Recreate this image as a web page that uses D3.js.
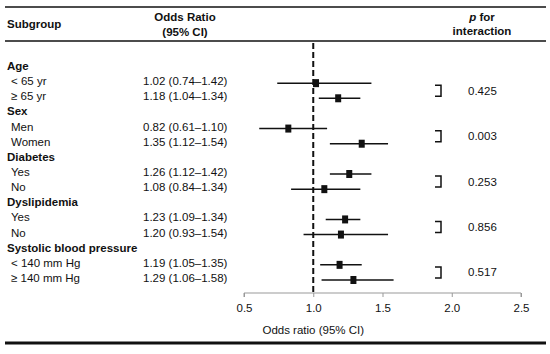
<!DOCTYPE html>
<html lang="en">
<head>
<meta charset="utf-8">
<title>Odds ratio by subgroup</title>
<script src="https://d3js.org/d3.v7.min.js"></script>
<style>
  body { margin: 0; background: #fff; }
  svg text { font-family: "Liberation Sans", Arial, sans-serif; fill: #111; }
  .hdr { font-weight: bold; font-size: 11.5px; }
  .lbl { font-size: 11.5px; }
</style>
</head>
<body>
<div id="chart"></div>
<script>
// rows, top to bottom (group headers have no estimate)
var labels = ["Age", "< 65 yr", "\u2265 65 yr", "Sex", "Men", "Women", "Diabetes", "Yes", "No",
              "Dyslipidemia", "Yes", "No", "Systolic blood pressure", "< 140 mm Hg", "\u2265 140 mm Hg"];
var isGroup = [1,0,0,1,0,0,1,0,0,1,0,0,1,0,0];
var orValues = [null,1.02,1.18,null,0.82,1.35,null,1.26,1.08,null,1.23,1.20,null,1.19,1.29];
var ciLow   = [null,0.74,1.04,null,0.61,1.12,null,1.12,0.84,null,1.09,0.93,null,1.05,1.06];
var ciHigh  = [null,1.42,1.34,null,1.10,1.54,null,1.42,1.34,null,1.34,1.54,null,1.35,1.58];
// p for interaction, one per group
var pValues = ["0.425", "0.003", "0.253", "0.856", "0.517"];
var xTicks = [0.5, 1.0, 1.5, 2.0, 2.5];

var W = 550, H = 354;
var svg = d3.select("#chart").append("svg").attr("width", W).attr("height", H);

var x = d3.scaleLinear().domain([0.5, 2.5]).range([244, 521]);
var y = d3.scaleLinear().domain([0, 14]).range([66, 278]);
var fmt = d3.format(".2f");

// frame lines
svg.append("line").attr("x1", 5).attr("x2", 546).attr("y1", 7).attr("y2", 7)
  .attr("stroke", "#111").attr("stroke-width", 1.5);
svg.append("line").attr("x1", 5).attr("x2", 546).attr("y1", 41).attr("y2", 41)
  .attr("stroke", "#111").attr("stroke-width", 1.5);
svg.append("line").attr("x1", 5).attr("x2", 546).attr("y1", 343).attr("y2", 343)
  .attr("stroke", "#111").attr("stroke-width", 3);

// headers
svg.append("text").attr("class", "hdr").attr("x", 7).attr("y", 28).text("Subgroup");
svg.append("text").attr("class", "hdr").attr("x", 185).attr("y", 21)
  .attr("text-anchor", "middle").text("Odds Ratio");
svg.append("text").attr("class", "hdr").attr("x", 185).attr("y", 36)
  .attr("text-anchor", "middle").text("(95% CI)");
var ph = svg.append("text").attr("class", "hdr").attr("x", 482).attr("y", 21)
  .attr("text-anchor", "middle");
ph.append("tspan").style("font-style", "italic").text("p");
ph.append("tspan").text(" for");
svg.append("text").attr("class", "hdr").attr("x", 482).attr("y", 35)
  .attr("text-anchor", "middle").text("interaction");

// row labels
svg.selectAll(".rowlbl").data(labels).enter().append("text")
  .attr("class", function(d, i) { return isGroup[i] ? "hdr rowlbl" : "lbl rowlbl"; })
  .attr("x", function(d, i) { return isGroup[i] ? 7 : 11; })
  .attr("y", function(d, i) { return y(i) + 4; })
  .text(function(d) { return d; });

// odds ratio text
var est = orValues.map(function(d, i) { return {i: i, or: d, lo: ciLow[i], hi: ciHigh[i]}; })
  .filter(function(d) { return d.or != null; });

svg.selectAll(".ortxt").data(est).enter().append("text")
  .attr("class", "lbl ortxt")
  .attr("x", 143)
  .attr("y", function(d) { return y(d.i) + 4; })
  .text(function(d) { return fmt(d.or) + " (" + fmt(d.lo) + "\u2013" + fmt(d.hi) + ")"; });

// reference line at 1
svg.append("line").attr("x1", x(1)).attr("x2", x(1)).attr("y1", 43).attr("y2", 293)
  .attr("stroke", "#111").attr("stroke-width", 2).attr("stroke-dasharray", "6,3");

// CI lines and boxes
svg.selectAll(".ci").data(est).enter().append("line")
  .attr("x1", function(d) { return x(d.lo); })
  .attr("x2", function(d) { return x(d.hi); })
  .attr("y1", function(d) { return y(d.i) + 2; })
  .attr("y2", function(d) { return y(d.i) + 2; })
  .attr("stroke", "#111").attr("stroke-width", 1.5);
svg.selectAll(".box").data(est).enter().append("rect")
  .attr("x", function(d) { return x(d.or) - 3; })
  .attr("y", function(d) { return y(d.i) - 2; })
  .attr("width", 6).attr("height", 8)
  .attr("fill", "#111");

// brackets and p values
pValues.forEach(function(p, g) {
  var cy = (y(g * 3 + 1) + y(g * 3 + 2)) / 2 + 2;
  svg.append("path")
    .attr("d", "M435," + (cy - 5.5) + "H441V" + (cy + 5.5) + "H435")
    .attr("fill", "none").attr("stroke", "#111").attr("stroke-width", 1.5);
  svg.append("text").attr("class", "lbl").attr("x", 468).attr("y", cy + 4).text(p);
});

// x axis
var axis = svg.append("g").attr("transform", "translate(0,293)")
  .call(d3.axisBottom(x).tickValues(xTicks).tickSize(4).tickPadding(7).tickFormat(d3.format(".1f")));
axis.select(".domain").attr("stroke", "#999").attr("d", "M244,4V0H521V4");
axis.selectAll(".tick line").attr("stroke", "#999");
axis.selectAll(".tick text").style("font-size", "11.5px").style("font-family", "Liberation Sans, Arial, sans-serif").attr("fill", "#111");

svg.append("text").attr("class", "lbl").attr("x", x(1)).attr("y", 334)
  .attr("text-anchor", "middle").text("Odds ratio (95% CI)");
</script>
</body>
</html>
